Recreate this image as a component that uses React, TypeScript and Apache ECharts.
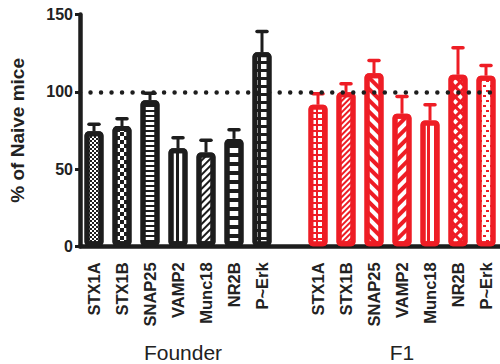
import React, { useEffect, useRef } from "react";
import * as echarts from "echarts";

const categories = ["STX1A", "STX1B", "SNAP25", "VAMP2", "Munc18", "NR2B", "P~Erk", "", "STX1A", "STX1B", "SNAP25", "VAMP2", "Munc18", "NR2B", "P~Erk"];
const founderMeans = [74.5, 77.8, 94.5, 63.5, 60.7, 69.5, 125.5];
const founderUpper = [79, 82.5, 99, 70.2, 68.7, 75.4, 139];
const f1Means = [91.6, 99.7, 112, 85.8, 81.4, 111, 110.4];
const f1Upper = [98.7, 105.2, 120.3, 97, 91.6, 128.5, 117];
const yTicks = [0, 50, 100, 150];
const groupLabels = ["Founder", "F1"];
const referenceValue = 100;

const BLACK = "#1d1d1d";
const RED = "#ee1d25";
const WHITE = "#ffffff";
const FONT = "'Liberation Sans', Arial, sans-serif";

// fill colour of each bar (pattern drawn on top)
const founderFills = [WHITE, WHITE, WHITE, WHITE, WHITE, WHITE, BLACK];
const f1Fills = [RED, WHITE, WHITE, WHITE, WHITE, RED, WHITE];

const founderDecals: any[] = [
  { symbol: "rect", symbolSize: 1, color: BLACK, dashArrayX: [[2, 2], [0, 2, 2, 0]], dashArrayY: [2, 0] },
  { symbol: "rect", symbolSize: 1, color: BLACK, dashArrayX: [[4, 4], [0, 4, 4, 0]], dashArrayY: [4, 0] },
  { symbol: "rect", symbolSize: 1, color: BLACK, dashArrayX: [1, 0], dashArrayY: [2, 3] },
  { symbol: "rect", symbolSize: 1, color: BLACK, dashArrayX: [2.5, 4.5], dashArrayY: [1, 0] },
  { symbol: "rect", symbolSize: 1, color: BLACK, dashArrayX: [1, 0], dashArrayY: [1.6, 2.6], rotation: -Math.PI / 4 },
  { symbol: "rect", symbolSize: 1, color: BLACK, dashArrayX: [1, 0], dashArrayY: [4, 5] },
  { symbol: "rect", symbolSize: 1, color: WHITE, dashArrayX: [6, 3], dashArrayY: [5, 3] },
];
const f1Decals: any[] = [
  { symbol: "rect", symbolSize: 1, color: WHITE, dashArrayX: [4, 2], dashArrayY: [4, 2] },
  { symbol: "rect", symbolSize: 1, color: RED, dashArrayX: [1, 0], dashArrayY: [1.5, 2], rotation: -Math.PI / 4 },
  { symbol: "rect", symbolSize: 1, color: RED, dashArrayX: [1, 0], dashArrayY: [4, 4], rotation: Math.PI / 4 },
  { symbol: "rect", symbolSize: 1, color: RED, dashArrayX: [1, 0], dashArrayY: [4, 4], rotation: -Math.PI / 4 },
  { symbol: "rect", symbolSize: 1, color: RED, dashArrayX: [2.5, 4], dashArrayY: [1, 0] },
  { symbol: "rect", symbolSize: 1, color: WHITE, dashArrayX: [4, 3], dashArrayY: [4, 3], rotation: Math.PI / 4 },
  { symbol: "rect", symbolSize: 1, color: RED, dashArrayX: [[2.5, 3.5], [0, 3, 2.5, 0.5]], dashArrayY: [1.2, 2.5] },
];

export default function App() {
  const ref = useRef<HTMLDivElement>(null);
  useEffect(() => {
    if (!ref.current) return;
    const chart = echarts.init(ref.current, null, { renderer: "svg" });

    const barData: any[] = [];
    const errData: any[] = [];
    founderMeans.forEach((v, i) => {
      barData.push({
        value: v,
        itemStyle: { color: founderFills[i], borderColor: BLACK, decal: founderDecals[i] },
      });
      errData.push([i, v, founderUpper[i], 0]);
    });
    barData.push("-");
    f1Means.forEach((v, i) => {
      barData.push({
        value: v,
        itemStyle: { color: f1Fills[i], borderColor: RED, decal: f1Decals[i] },
      });
      errData.push([i + 8, v, f1Upper[i], 1]);
    });

    chart.setOption({
      animation: false,
      textStyle: { fontFamily: FONT },
      grid: { left: 72, right: 0, top: 14.5, bottom: 117.7 },
      xAxis: {
        type: "category",
        data: categories,
        axisLine: { lineStyle: { color: BLACK, width: 4.5 } },
        axisTick: { alignWithLabel: true, length: 9, lineStyle: { color: BLACK, width: 4, cap: "round" } },
        axisLabel: {
          rotate: 90,
          interval: 0,
          margin: 16,
          color: "#222",
          fontWeight: "bold",
          fontSize: 16.5,
          fontFamily: FONT,
        },
      },
      yAxis: {
        type: "value",
        min: yTicks[0],
        max: yTicks[yTicks.length - 1],
        interval: 50,
        name: "% of Naive mice",
        nameLocation: "middle",
        nameGap: 53,
        nameTextStyle: { fontWeight: "bold", fontSize: 19, color: "#222", fontFamily: FONT },
        axisLine: { show: true, lineStyle: { color: BLACK, width: 4.5 } },
        axisTick: { show: true, length: 5, lineStyle: { color: BLACK, width: 3 } },
        axisLabel: { margin: 7, color: "#222", fontWeight: "bold", fontSize: 16, fontFamily: FONT },
        splitLine: { show: false },
      },
      series: [
        {
          type: "custom",
          z: 1,
          data: errData,
          encode: { x: 0, y: [1, 2] },
          renderItem: (params: any, api: any) => {
            const x = api.value(0);
            const m = api.value(1);
            const u = api.value(2);
            const color = api.value(3) === 1 ? RED : BLACK;
            const p0 = api.coord([x, m]);
            const p1 = api.coord([x, u]);
            return {
              type: "group",
              children: [
                { type: "line", shape: { x1: p0[0], y1: p0[1], x2: p1[0], y2: p1[1] }, style: { stroke: color, lineWidth: 3 } },
                { type: "line", shape: { x1: p1[0] - 5, y1: p1[1], x2: p1[0] + 5, y2: p1[1] }, style: { stroke: color, lineWidth: 3.5, lineCap: "round" } },
              ],
            };
          },
        },
        {
          type: "bar",
          z: 2,
          barWidth: 19,
          data: barData,
          itemStyle: { borderWidth: 5, borderRadius: 2 },
        },
        {
          type: "line",
          z: 5,
          data: [],
          markLine: {
            silent: true,
            symbol: ["none", "none"],
            label: { show: false },
            lineStyle: { color: BLACK, width: 4.5, type: [0.01, 10.5], cap: "round" },
            data: [{ yAxis: referenceValue }],
          },
        },
      ],
      graphic: [
        { type: "text", x: 183, y: 352, style: { text: groupLabels[0], font: `21px ${FONT}`, fill: "#222", textAlign: "center", textVerticalAlign: "middle" } },
        { type: "text", x: 402, y: 352, style: { text: groupLabels[1], font: `21px ${FONT}`, fill: "#222", textAlign: "center", textVerticalAlign: "middle" } },
      ],
    });
    return () => chart.dispose();
  }, []);
  return <div ref={ref} style={{ width: 500, height: 364, position: "absolute", left: 0, top: 0 }} />;
}
